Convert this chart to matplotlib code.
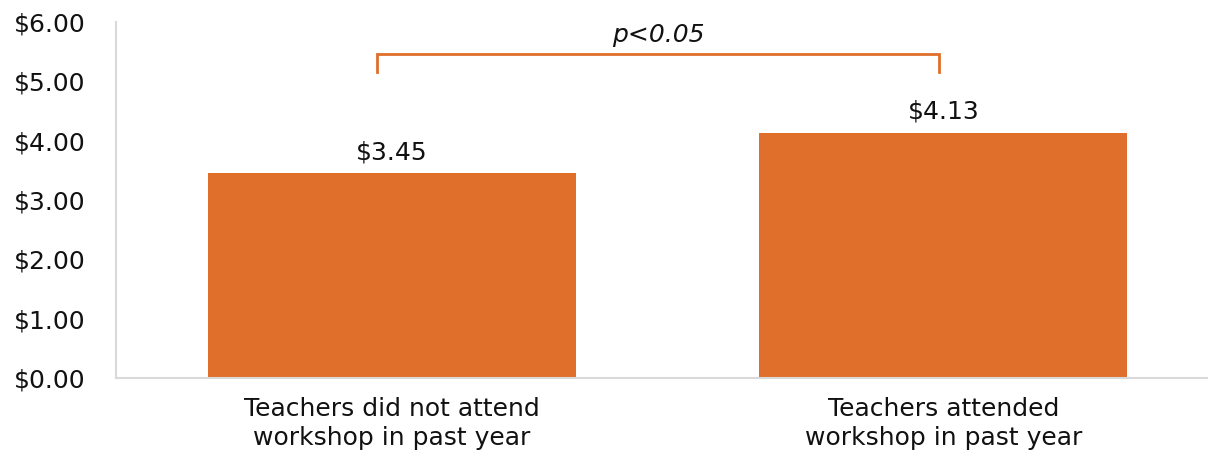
import matplotlib
matplotlib.use("Agg")
import matplotlib.pyplot as plt

categories = ["Teachers did not attend\nworkshop in past year",
              "Teachers attended\nworkshop in past year"]
values = [3.45, 4.13]
value_labels = ["$3.45", "$4.13"]
yticks = [0, 1, 2, 3, 4, 5, 6]
ytick_labels = ["$0.00", "$1.00", "$2.00", "$3.00", "$4.00", "$5.00", "$6.00"]
sig_text = "p<0.05"

bar_color = "#E06F2B"
text_color = "#111111"
plt.rcParams["font.family"] = ["DejaVu Sans"]
fs = 18

fig = plt.figure(figsize=(12.08, 4.51), dpi=100)
ax = fig.add_axes([116 / 1208, 1 - 378 / 451, (1208 - 116) / 1208, 356 / 451])

x = list(range(len(categories)))
ax.bar(x, values, width=0.667, color=bar_color, zorder=2)
for xi, v, lab in zip(x, values, value_labels):
    ax.text(xi, v + 0.24, lab, ha="center", va="baseline", fontsize=fs, color=text_color)

ax.set_xlim(-0.5, 1.48)
ax.set_ylim(0, 6)
ax.set_yticks(yticks)
ax.set_yticklabels(ytick_labels, fontsize=fs, color=text_color)
ax.set_xticks(x)
ax.set_xticklabels(categories, fontsize=fs, color=text_color, linespacing=1.22)
ax.tick_params(axis="x", length=0, pad=14)
ax.tick_params(axis="y", length=0, pad=22)
for side in ("top", "right"):
    ax.spines[side].set_visible(False)
for side in ("left", "bottom"):
    ax.spines[side].set_color("#D9D9D9")
    ax.spines[side].set_linewidth(1.5)

# significance bracket
bx0, bx1, btop, bbot = -0.027, 0.992, 5.46, 5.15
ax.plot([bx0, bx0, bx1, bx1], [bbot, btop, btop, bbot], color=bar_color, lw=2,
        solid_joinstyle="miter", clip_on=False)
ax.text((bx0 + bx1) / 2, 5.66, sig_text, ha="center", va="baseline", fontsize=fs,
        style="italic", color=text_color)

fig.savefig("out.png", dpi=100)
